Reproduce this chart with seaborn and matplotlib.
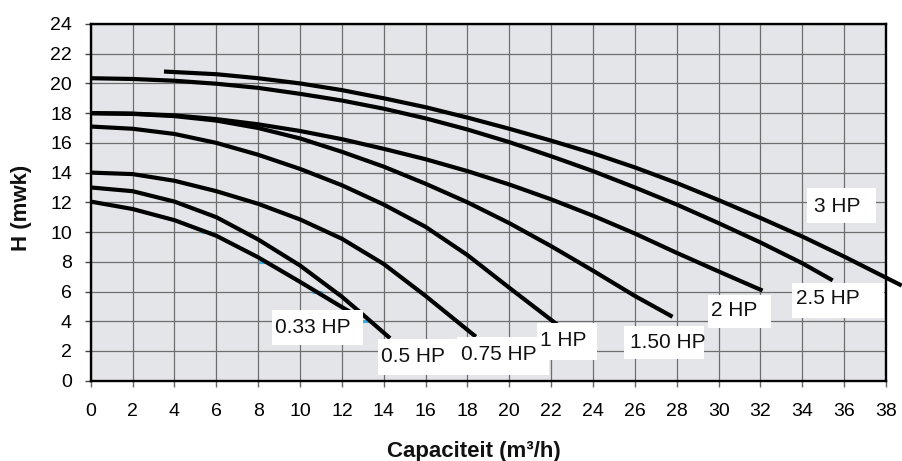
import matplotlib
matplotlib.use("Agg")
import matplotlib.pyplot as plt
import seaborn as sns
import pandas as pd
from matplotlib.patches import Rectangle

# ---- data ----
q_033 = [0, 2, 4, 6, 8, 10, 12, 12.8]
h_033 = [12.05, 11.55, 10.8, 9.75, 8.3, 6.65, 4.95, 4.3]

q_05 = [0, 2, 4, 6, 8, 10, 12, 13, 14.3]
h_05 = [13.0, 12.75, 12.05, 11.0, 9.5, 7.75, 5.65, 4.45, 2.86]

q_075 = [0, 2, 4, 6, 8, 10, 12, 14, 16, 18.4]
h_075 = [14.0, 13.9, 13.45, 12.75, 11.9, 10.85, 9.55, 7.85, 5.7, 2.96]

q_1 = [0, 2, 4, 6, 8, 10, 12, 14, 16, 18, 20, 22.5]
h_1 = [17.1, 16.95, 16.6, 16.0, 15.2, 14.25, 13.15, 11.85, 10.35, 8.45, 6.25, 3.55]

q_15 = [0, 2, 4, 6, 8, 10, 12, 14, 16, 18, 20, 22, 24, 26, 27.8]
h_15 = [18.0, 17.95, 17.8, 17.5, 17.0, 16.3, 15.4, 14.4, 13.25, 12.0, 10.6, 9.05, 7.4, 5.7, 4.3]

q_2 = [0, 2, 4, 6, 8, 10, 12, 14, 16, 18, 20, 22, 24, 26, 28, 30, 32.1]
h_2 = [18.0, 17.97, 17.85, 17.6, 17.25, 16.8, 16.25, 15.6, 14.9, 14.1, 13.2, 12.2, 11.1, 9.9, 8.6, 7.35, 6.06]

q_25 = [0, 2, 4, 6, 8, 10, 12, 14, 16, 18, 20, 22, 24, 26, 28, 30, 32, 34, 35.45]
h_25 = [20.35, 20.3, 20.18, 19.98, 19.7, 19.3, 18.85, 18.3, 17.65, 16.9, 16.05, 15.1, 14.1, 13.0, 11.85, 10.6, 9.3, 7.9, 6.75]

q_3 = [3.5, 6, 8, 10, 12, 14, 16, 18, 20, 22, 24, 26, 28, 30, 32, 34, 36, 38.75]
h_3 = [20.8, 20.62, 20.35, 20.0, 19.55, 19.0, 18.4, 17.7, 16.95, 16.15, 15.3, 14.35, 13.3, 12.15, 10.95, 9.7, 8.35, 6.4]

# small cyan points on the 0.33 HP curve
q_pts = [0, 5.5, 8.3, 10.8, 13.1]
h_pts = [12.0, 10.0, 8.0, 6.0, 4.0]

labels = ["0.33 HP", "0.5 HP", "0.75 HP", "1 HP", "1.50 HP", "2 HP", "2.5 HP", "3 HP"]
series = [(q_033, h_033), (q_05, h_05), (q_075, h_075), (q_1, h_1),
          (q_15, h_15), (q_2, h_2), (q_25, h_25), (q_3, h_3)]

x_ticks = list(range(0, 39, 2))
y_ticks = list(range(0, 25, 2))

# ---- styling ----
sns.set_theme(style="ticks")
plt.rcParams["font.family"] = ["Liberation Sans", "DejaVu Sans"]

fig = plt.figure(figsize=(9.02, 4.61), dpi=100)
ax = fig.add_axes([0.1006, 0.1742, 0.8817, 0.7738])
ax.set_facecolor("#E3E5E9")

frames = []
for lab, (q, h) in zip(labels, series):
    frames.append(pd.DataFrame({"Q": q, "H": h, "pump": lab}))
df = pd.concat(frames, ignore_index=True)

sns.scatterplot(x=q_pts, y=h_pts, marker="_", s=60, color="#3AAEE0",
                linewidth=2.2, ax=ax, zorder=1.9, legend=False)

sns.lineplot(data=df, x="Q", y="H", hue="pump", units="pump", estimator=None,
             sort=False, palette=["black"] * len(labels), linewidth=3.0,
             legend=False, ax=ax, zorder=2)
for ln in ax.get_lines():
    ln.set_clip_on(False)
    ln.set_solid_capstyle("butt")
    ln.set_solid_joinstyle("round")

ax.set_xlim(0, 38)
ax.set_ylim(0, 24)
ax.set_xticks(x_ticks)
ax.set_yticks(y_ticks)
ax.grid(True, color="#6e6e6e", linewidth=0.9)
ax.set_axisbelow(True)
for s in ax.spines.values():
    s.set_visible(True)
    s.set_color("black")
    s.set_linewidth(1.7)

ax.tick_params(axis="x", direction="out", length=4, width=1, color="#666666",
               labelsize=14, pad=12, labelcolor="black")
ax.tick_params(axis="y", direction="out", length=4, width=1, color="#444444",
               labelsize=14, pad=9.5, labelcolor="black")
ax.set_xlabel("")
ax.set_ylabel("")

# label boxes (x0, x1, y0, y1, text_x, text_y)
boxes = [
    (8.65, 13.0, 2.4, 4.76, 8.8, 3.55),
    (13.72, 17.5, 0.38, 2.8, 13.87, 1.6),
    (17.5, 21.9, 0.38, 2.94, 17.7, 1.75),
    (21.3, 24.2, 1.39, 3.87, 21.45, 2.7),
    (25.5, 29.3, 1.46, 3.68, 25.75, 2.55),
    (29.5, 32.5, 3.54, 5.76, 29.66, 4.7),
    (33.5, 37.9, 4.21, 6.57, 33.71, 5.5),
    (34.2, 37.5, 10.6, 12.96, 34.58, 11.75),
]
for lab, (x0, x1, y0, y1, tx, ty) in zip(labels, boxes):
    ax.add_patch(Rectangle((x0, y0), x1 - x0, y1 - y0, facecolor="white",
                           edgecolor="none", zorder=5))
    ax.text(tx, ty, lab, fontsize=15, ha="left", va="center", color="#111111",
            zorder=6)

fig.text(474 / 902, 1 - 456.5 / 461, "Capaciteit (m³/h)", ha="center",
         va="baseline", fontsize=16, fontweight="bold", color="#111111")
fig.text(21 / 902, 1 - 208 / 461, "H (mwk)", ha="center", va="center",
         rotation=90, fontsize=16, fontweight="bold", color="#111111")

fig.savefig("out.png", dpi=100)
